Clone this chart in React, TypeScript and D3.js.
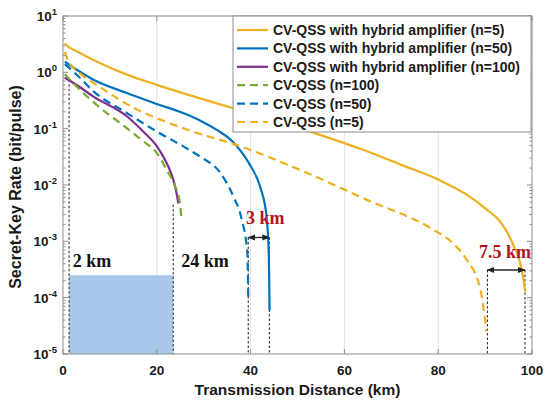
import { useEffect, useRef } from 'react';
import * as d3 from 'd3';

// Distances (km) and secret-key rates (bit/pulse)
const distHybrid5 = [0.4, 1, 3, 6.5, 13.6, 20, 28, 36.3, 45, 53.3, 64.7, 72, 80, 86, 90.3, 93, 94.8, 96, 97.8, 98.6];
const rateHybrid5 = [3.3, 2.9, 2.35, 1.66, 0.91, 0.6, 0.37, 0.23, 0.14, 0.085, 0.04, 0.023, 0.0125, 0.0068, 0.0037, 0.00234, 0.00141, 8.7e-4, 3.2e-4, 1.26e-4];

const distHybrid50 = [0.4, 3, 6.5, 13.6, 20, 26.7, 30, 33, 36.3, 39.9, 42, 43.4, 43.9, 44.05];
const rateHybrid50 = [1.55, 1.1, 0.74, 0.43, 0.275, 0.174, 0.129, 0.093, 0.0575, 0.0224, 0.0095, 0.0028, 5e-4, 5.9e-5];

const distHybrid100 = [0.4, 3, 6.5, 13.6, 17.1, 20, 22.1, 23.5, 24.2, 24.6];
const rateHybrid100 = [0.8, 0.59, 0.37, 0.166, 0.089, 0.049, 0.0245, 0.0126, 0.0072, 0.0047];

const distPlain100 = [0.4, 0.8, 3, 6.5, 13.6, 17.1, 20, 22.1, 23.9, 24.9, 25.2];
const ratePlain100 = [0.92, 0.85, 0.55, 0.295, 0.102, 0.06, 0.037, 0.0186, 0.0095, 0.0049, 0.0028];

const distPlain50 = [0.4, 3.6, 6.5, 13.6, 20, 26.7, 29.2, 33.5, 36.3, 38.1, 39.3, 39.5];
const ratePlain50 = [1.4, 0.8, 0.46, 0.19, 0.089, 0.043, 0.032, 0.0166, 0.0063, 0.00245, 6.3e-4, 1e-4];

const distPlain5 = [0.4, 1, 2, 3.6, 8, 15.7, 20.7, 26.7, 37.7, 50.5, 64.7, 79, 83, 86, 89, 90.3];
const ratePlain5 = [2.3, 1.66, 1.26, 0.96, 0.54, 0.22, 0.145, 0.095, 0.049, 0.0186, 0.0055, 0.0016, 9.5e-4, 4.8e-4, 1.4e-4, 2.5e-5];

const seriesNames = [
  'CV-QSS with hybrid amplifier (n=5)',
  'CV-QSS with hybrid amplifier (n=50)',
  'CV-QSS with hybrid amplifier (n=100)',
  'CV-QSS (n=100)',
  'CV-QSS (n=50)',
  'CV-QSS (n=5)',
];
const seriesColors = ['#EDB120', '#0072BD', '#7E2F8E', '#77AC30', '#0072BD', '#EDB120'];
const seriesDashed = [false, false, false, true, true, true];
const seriesDist = [distHybrid5, distHybrid50, distHybrid100, distPlain100, distPlain50, distPlain5];
const seriesRate = [rateHybrid5, rateHybrid50, rateHybrid100, ratePlain100, ratePlain50, ratePlain5];

const xTicks = [0, 20, 40, 60, 80, 100];
const yExponents = [1, 0, -1, -2, -3, -4, -5];

// Dotted guide lines: distance and the rate where they begin
const guideDist = [1.3, 23.5, 39.5, 44, 90.5, 98.5];
const guideTop = [0.74, 0.0045, 1.17e-3, 1.17e-3, 3.1e-4, 3.1e-4];

// Shaded band and gap arrows
const bandRange = [1.3, 23.5];
const bandTop = 2.5e-4;
const gapArrows = [
  { from: 39.5, to: 44, rate: 1.17e-3, label: '3 km', labelAt: 39.0, labelRate: 2.0e-3 },
  { from: 90.5, to: 98.5, rate: 3.1e-4, label: '7.5 km', labelAt: 88.7, labelRate: 5.0e-4 },
];
const blackLabels = [
  { text: '2 km', at: 2.1, rate: 3.5e-4 },
  { text: '24 km', at: 25.2, rate: 3.5e-4 },
];

export default function App() {
  const svgRef = useRef<SVGSVGElement>(null);

  useEffect(() => {
    if (!svgRef.current) return;
    const svg = d3.select(svgRef.current);
    svg.selectAll('*').remove();

    const width = 550;
    const height = 404;
    const margin = { top: 16, right: 18, bottom: 50, left: 63 };
    const innerWidth = width - margin.left - margin.right;
    const innerHeight = height - margin.top - margin.bottom;

    const font = '"Liberation Sans", Arial, Helvetica, sans-serif';
    const serif = '"Liberation Serif", "Times New Roman", serif';
    const axisColor = '#8c8c8c';
    const textColor = '#1a1a1a';

    const g = svg.append('g').attr('transform', `translate(${margin.left},${margin.top})`);

    const x = d3.scaleLinear().domain([0, 100]).range([0, innerWidth]);
    const y = d3.scaleLog().domain([1e-5, 10]).range([innerHeight, 0]);

    // Defs: clip + arrow marker
    const defs = svg.append('defs');
    defs.append('clipPath').attr('id', 'plotClip')
      .append('rect').attr('width', innerWidth).attr('height', innerHeight);
    defs.append('marker')
      .attr('id', 'arrowHead')
      .attr('viewBox', '0 0 10 10')
      .attr('refX', 9).attr('refY', 5)
      .attr('markerWidth', 6).attr('markerHeight', 6)
      .attr('orient', 'auto-start-reverse')
      .append('path').attr('d', 'M0,1 L10,5 L0,9 Z').attr('fill', '#222');

    // Background
    g.append('rect').attr('width', innerWidth).attr('height', innerHeight).attr('fill', '#fff');

    // Vertical grid
    xTicks.slice(1, -1).forEach((t) => {
      g.append('line')
        .attr('x1', x(t)).attr('x2', x(t))
        .attr('y1', 0).attr('y2', innerHeight)
        .attr('stroke', '#e3e3e3').attr('stroke-width', 1);
    });

    // Shaded band
    g.append('rect')
      .attr('x', x(bandRange[0]))
      .attr('y', y(bandTop))
      .attr('width', x(bandRange[1]) - x(bandRange[0]))
      .attr('height', innerHeight - y(bandTop))
      .attr('fill', '#a8c8ea');

    // Dotted guides
    guideDist.forEach((d, i) => {
      g.append('line')
        .attr('x1', x(d)).attr('x2', x(d))
        .attr('y1', y(guideTop[i])).attr('y2', innerHeight)
        .attr('stroke', '#333').attr('stroke-width', 1.1)
        .attr('stroke-dasharray', '2.5,2');
    });

    // Curves
    const lineGen = d3.line<[number, number]>()
      .x((d) => x(d[0]))
      .y((d) => y(d[1]))
      .curve(d3.curveMonotoneX);

    const curves = g.append('g').attr('clip-path', 'url(#plotClip)');
    seriesDist.forEach((dist, i) => {
      const pts = dist.map((d, j) => [d, seriesRate[i][j]] as [number, number]);
      curves.append('path')
        .datum(pts)
        .attr('d', lineGen)
        .attr('fill', 'none')
        .attr('stroke', seriesColors[i])
        .attr('stroke-width', 2.2)
        .attr('stroke-dasharray', seriesDashed[i] ? '8,5' : null);
    });

    // Gap arrows and red labels
    gapArrows.forEach((a) => {
      g.append('line')
        .attr('x1', x(a.from)).attr('x2', x(a.to))
        .attr('y1', y(a.rate)).attr('y2', y(a.rate))
        .attr('stroke', '#222').attr('stroke-width', 1.3)
        .attr('marker-start', 'url(#arrowHead)')
        .attr('marker-end', 'url(#arrowHead)');
      g.append('text')
        .attr('x', x(a.labelAt)).attr('y', y(a.labelRate))
        .attr('fill', '#b3141c')
        .attr('font-family', serif).attr('font-weight', 'bold').attr('font-size', '18px')
        .text(a.label);
    });

    blackLabels.forEach((l) => {
      g.append('text')
        .attr('x', x(l.at)).attr('y', y(l.rate))
        .attr('fill', '#111')
        .attr('font-family', serif).attr('font-weight', 'bold').attr('font-size', '18px')
        .text(l.text);
    });

    // Axes box
    g.append('rect')
      .attr('width', innerWidth).attr('height', innerHeight)
      .attr('fill', 'none').attr('stroke', axisColor).attr('stroke-width', 1);

    // X ticks (bottom & top, inward)
    xTicks.forEach((t) => {
      g.append('line').attr('x1', x(t)).attr('x2', x(t)).attr('y1', innerHeight).attr('y2', innerHeight - 5)
        .attr('stroke', axisColor);
      g.append('line').attr('x1', x(t)).attr('x2', x(t)).attr('y1', 0).attr('y2', 5)
        .attr('stroke', axisColor);
      g.append('text')
        .attr('x', x(t)).attr('y', innerHeight + 21)
        .attr('text-anchor', 'middle')
        .attr('fill', textColor)
        .attr('font-family', font).attr('font-weight', 'bold').attr('font-size', '13.5px')
        .text(t);
    });

    // Y ticks (major + minor, both sides)
    yExponents.forEach((e) => {
      const v = Math.pow(10, e);
      [0, innerWidth].forEach((sx) => {
        const dir = sx === 0 ? 1 : -1;
        g.append('line').attr('x1', sx).attr('x2', sx + dir * 5).attr('y1', y(v)).attr('y2', y(v))
          .attr('stroke', axisColor);
        if (e > -5) {
          for (let m = 2; m <= 9; m++) {
            const mv = (v / 10) * m;
            g.append('line').attr('x1', sx).attr('x2', sx + dir * 2.5).attr('y1', y(mv)).attr('y2', y(mv))
              .attr('stroke', axisColor);
          }
        }
      });
      const label = g.append('text')
        .attr('x', -6).attr('y', y(v) + 5)
        .attr('text-anchor', 'end')
        .attr('fill', textColor)
        .attr('font-family', font).attr('font-weight', 'bold').attr('font-size', '13.5px');
      label.append('tspan').text('10');
      label.append('tspan').attr('dy', -6).attr('font-size', '9.5px').text(String(e));
    });

    // Axis titles
    g.append('text')
      .attr('x', innerWidth / 2).attr('y', innerHeight + 41)
      .attr('text-anchor', 'middle')
      .attr('fill', textColor)
      .attr('font-family', font).attr('font-weight', 'bold').attr('font-size', '15.5px')
      .text('Transmission Distance (km)');

    g.append('text')
      .attr('transform', `translate(${-42},${innerHeight / 2 + 2}) rotate(-90)`)
      .attr('text-anchor', 'middle')
      .attr('fill', textColor)
      .attr('font-family', font).attr('font-weight', 'bold').attr('font-size', '16px')
      .text('Secret-Key Rate (bit/pulse)');

    // Legend
    const legend = svg.append('g').attr('transform', 'translate(233,16)');
    legend.append('rect')
      .attr('width', 298).attr('height', 116)
      .attr('fill', '#fff').attr('stroke', axisColor).attr('stroke-width', 1);
    seriesNames.forEach((name, i) => {
      const ry = 14 + i * 18.4;
      legend.append('line')
        .attr('x1', 4).attr('x2', 35).attr('y1', ry).attr('y2', ry)
        .attr('stroke', seriesColors[i]).attr('stroke-width', 2.2)
        .attr('stroke-dasharray', seriesDashed[i] ? '8,5' : null);
      legend.append('text')
        .attr('x', 40).attr('y', ry + 5)
        .attr('fill', textColor)
        .attr('font-family', font).attr('font-weight', 'bold').attr('font-size', '14px')
        .text(name);
    });
  }, []);

  return (
    <svg
      ref={svgRef}
      width={550}
      height={404}
      style={{ position: 'absolute', left: 0, top: 0, background: '#fff' }}
    />
  );
}
